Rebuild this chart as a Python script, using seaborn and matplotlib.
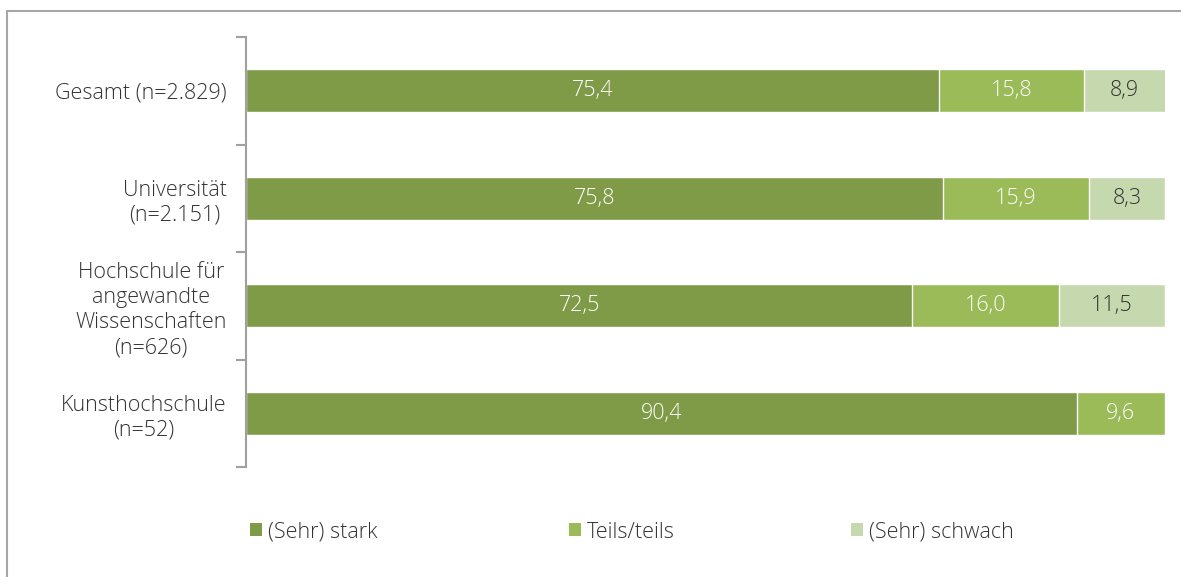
import numpy as np
import pandas as pd
import matplotlib.pyplot as plt
from matplotlib.patches import Rectangle, Patch
import seaborn as sns

categories = ["Gesamt (n=2.829)", "Universität\n(n=2.151)",
              "Hochschule für\nangewandte\nWissenschaften\n(n=626)",
              "Kunsthochschule\n(n=52)"]
series = ["(Sehr) stark", "Teils/teils", "(Sehr) schwach"]
stark = [75.4, 75.8, 72.5, 90.4]
teils = [15.8, 15.9, 16.0, 9.6]
schwach = [8.9, 8.3, 11.5, 0.0]
colors = ["#7f9b48", "#9bbb59", "#c6d8ae"]
label_colors = ["white", "white", "#333333"]

df = pd.DataFrame({"cat": categories, series[0]: stark,
                   series[1]: teils, series[2]: schwach})

sns.set_style("white")
plt.rcParams['font.family'] = ['Open Sans', 'DejaVu Sans']
plt.rcParams['font.weight'] = 'light'
fs = 15.5

fig = plt.figure(figsize=(11.81, 5.77), dpi=100)
ax = fig.add_axes([246 / 1181, 1 - 467 / 577, (1165 - 246) / 1181, (467 - 37) / 577])

# stacked: draw cumulative totals, longest first
cum = df[series].cumsum(axis=1)
for i in reversed(range(3)):
    sns.barplot(x=cum[series[i]], y=df["cat"], orient="h", color=colors[i],
                width=0.4, edgecolor="white", linewidth=1.0, ax=ax,
                saturation=1)

# value labels
for r in range(len(categories)):
    left = 0
    for i, s in enumerate(series):
        v = df[s][r]
        if v > 0:
            ax.text(min(left + v / 2, (left + 100) / 2), r, f"{v:.1f}".replace(".", ","),
                    ha="center", va="center", fontsize=fs, color=label_colors[i])
        left += v

ax.set_xlim(0, 100)
ax.set_ylim(3.5, -0.5)
ax.set_xlabel("")
ax.set_ylabel("")
ax.set_xticks([])
for sp in ["top", "right", "bottom"]:
    ax.spines[sp].set_visible(False)
ax.spines["left"].set_color("#a0a0a0")
ax.spines["left"].set_linewidth(1.5)

ax.set_yticks(range(4))
ax.set_yticklabels(categories, fontsize=fs, color="#333333", ha="right",
                   multialignment="center", linespacing=1.25)
ax.set_yticks(np.arange(-0.5, 4, 1), minor=True)
ax.tick_params(axis="y", which="major", length=0, pad=14)
ax.tick_params(axis="y", which="minor", length=7, width=1.5, color="#a0a0a0",
               left=True)
ax.tick_params(axis="x", length=0)

# legend entries placed one by one (uneven spacing like the original)
legend_x = [250, 569, 851]
for c, s, lx in zip(colors, series, legend_x):
    fig.legend([Patch(facecolor=c, edgecolor="none")], [s], loc="center left",
               bbox_to_anchor=(lx / 1181, 1 - 532 / 577), frameon=False, fontsize=fs,
               handlelength=0.55, handleheight=0.55, handletextpad=0.3,
               borderaxespad=0, borderpad=0, labelcolor="#333333")

fig.add_artist(Rectangle((7 / 1181, -0.2), 2, 1.2 - 11 / 577, transform=fig.transFigure,
                         fill=False, edgecolor="#a6a6a6", linewidth=1.5, clip_on=False))

fig.savefig("out.png", dpi=100)
